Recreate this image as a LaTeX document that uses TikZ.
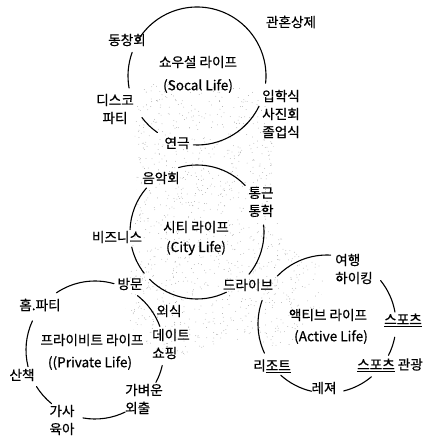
\documentclass[tikz,border=0pt]{standalone}
\usepackage{fontspec}
\setmainfont{Noto Sans CJK KR}[FakeBold=0.6]
\pgfmathsetseed{42}
\begin{document}
\begin{tikzpicture}[x=1pt,y=1pt,line cap=round,line join=round,
  font=\fontsize{13.6}{18}\selectfont,
  ring/.style={line width=1.1pt},
  lbl/.style={inner sep=0pt,align=center},
  lbll/.style={inner sep=0pt,align=left,anchor=west}]
\useasboundingbox (0,0) rectangle (425,-439);
% stipple between the circles
\begin{scope}
  \clip plot[smooth cycle] coordinates {(140,-92) (205,-86) (262,-95) (274,-150)
    (272,-205) (298,-255) (322,-268) (316,-320) (285,-346) (230,-340)
    (170,-356) (128,-322) (130,-280) (136,-200)};
  \foreach \k in {1,...,1700}
    \fill[gray!75] (125+205*rnd,-84-276*rnd) circle (0.4);
\end{scope}
\path
  (197,-76)coordinate (soc)
  (197,-232)coordinate (city)
  (95,-350)coordinate (priv)
  (327,-324)coordinate (act);
% circles with gaps
\foreach \c/\r/\a/\b in {soc/69/147/-6, soc/69/-26/-93, soc/69/160/190, soc/69/217/235,
    city/67/106/44, city/67/6/-39, city/67/139/178, city/67/193/218, city/67/225/296,
    priv/69/124/74, priv/69/52/20, priv/69/-13/-28, priv/69/-64/-100, priv/69/231/212, priv/69/194/155,
    act/69/136/87, act/69/39/10, act/69/-11/-27, act/69/-50/-76, act/69/257/228, act/69/205/160}{
  \draw[ring] (\c) ++(\a:\r) arc[start angle=\a, end angle=\b, radius=\r];
}
% social life
\node[lbl] (dongchang) at (127,-40) {동창회};
\node[lbl] (gwanhon) at (291,-22) {관혼상제};
\node[lbl] (soctitle) at (198,-62) {쇼우설 라이프};
\node[lbl] (socen) at (198,-86) {(Socal Life)};
\node[lbl] (disco) at (115,-109) {디스코\\파티};
\node[lbl] (ceremony) at (281,-114) {입학식\\사진회\\졸업식};
\node[lbl] (drama) at (177,-143) {연극};
% city life
\node[lbl] (concert) at (161,-178) {음악회};
\node[lbl] (commute) at (261,-202) {통근\\통학};
\node[lbl] (citytitle) at (196,-227) {시티 라이프};
\node[lbl] (cityen) at (196,-248) {(City Life)};
\node[lbl] (business) at (117,-237) {비즈니스};
\node[lbl] (visit) at (130,-284) {방문};
\node[lbl] (drive) at (248,-285) {드라이브};
% private life
\node[lbl] (homeparty) at (40,-305) {홈.파티};
\node[lbl] (dining) at (169,-311) {외식};
\node[lbll] (date) at (152,-344) {데이트\\쇼핑};
\node[lbl] (privtitle) at (92,-340) {프라이비트 라이프};
\node[lbl] (priven) at (90,-363) {((Private Life)};
\node[lbl] (walk) at (22,-375) {산책};
\node[lbll] (outing) at (125,-399) {가벼운\\외출};
\node[lbl] (house) at (62,-420) {가사\\육아};
% active life
\node[lbll] (travel) at (335,-269) {여행\\하이킹};
\node[lbl] (acttitle) at (328,-315) {액티브 라이프};
\node[lbl] (acten) at (331,-337) {(Active Life)};
\node[lbl] (sports) at (403,-320) {\underline{스포츠}};
\node[lbl] (resort) at (272,-366) {리\underline{조트}};
\node[lbl] (spotour) at (390,-365) {\underline{스포츠} 관광};
\node[lbl] (leisure) at (324,-388) {레져};
\end{tikzpicture}
\end{document}
